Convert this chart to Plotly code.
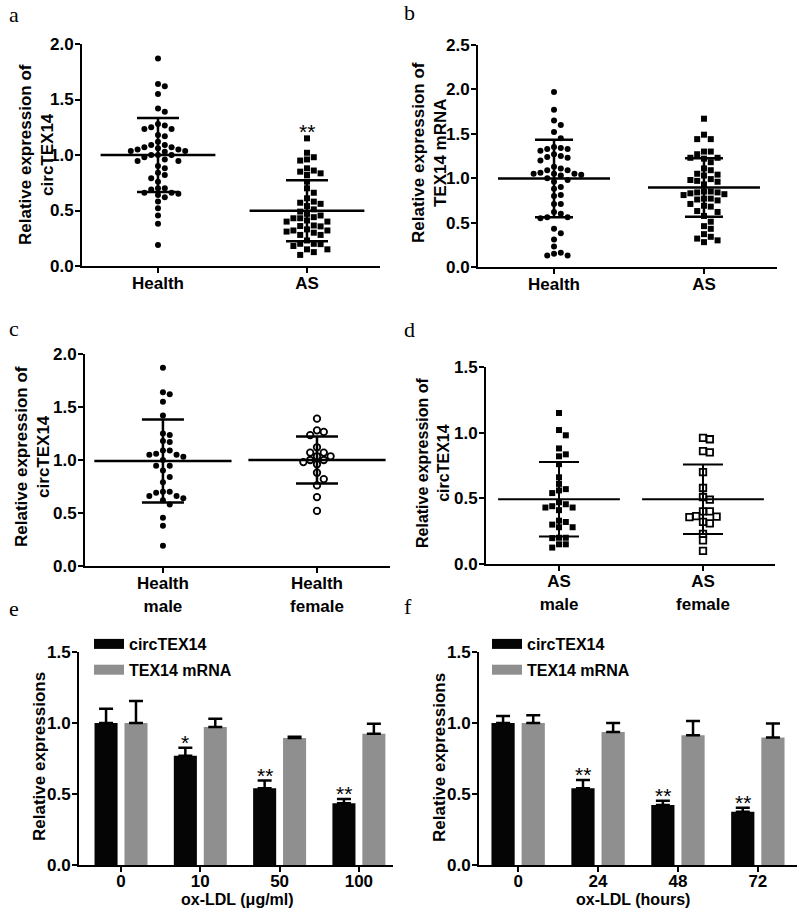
import numpy as np
import plotly.graph_objects as go

W, H = 800, 913
FONT = "Liberation Sans, Arial, sans-serif"
SERIF = "Liberation Serif, Times New Roman, serif"

# ---------------- data ----------------
c_health_male = [1.87, 1.64, 1.62, 1.55, 1.42, 1.25, 1.235, 1.18, 1.17, 1.09, 1.09,
                 1.06, 1.05, 1.05, 1.03, 1.00, 0.945, 0.945, 0.90, 0.84, 0.79, 0.70,
                 0.70, 0.69, 0.66, 0.64, 0.62, 0.66, 0.58, 0.455, 0.38, 0.19]
c_health_female = [1.39, 1.28, 1.265, 1.235, 1.12, 1.07, 1.07, 1.035, 1.035, 0.96,
                   1.00, 1.00, 0.98, 0.88, 0.82, 0.76, 0.65, 0.52]
d_as_male = [1.15, 1.02, 0.98, 0.88, 0.82, 0.835, 0.76, 0.66, 0.61, 0.56, 0.57, 0.54,
             0.47, 0.455, 0.44, 0.43, 0.43, 0.41, 0.32, 0.30, 0.33, 0.28, 0.28, 0.20,
             0.197, 0.20, 0.15, 0.15, 0.125]
d_as_female = [0.96, 0.95, 0.86, 0.85, 0.70, 0.58, 0.51, 0.49, 0.40, 0.40, 0.357,
               0.36, 0.365, 0.32, 0.31, 0.23, 0.18, 0.10]
b_health = [1.97, 1.77, 1.65, 1.60, 1.52, 1.45, 1.35, 1.33, 1.31, 1.33, 1.34, 1.27,
            1.25, 1.23, 1.24, 1.20, 1.13, 1.11, 1.09, 1.09, 1.05, 1.05, 1.04, 1.05,
            1.03, 1.06, 1.00, 0.98, 0.96, 0.90, 0.88, 0.81, 0.80, 0.71, 0.71, 0.62,
            0.60, 0.56, 0.55, 0.56, 0.43, 0.38, 0.31, 0.23, 0.16, 0.13, 0.13, 0.15]
b_as = [1.67, 1.49, 1.44, 1.44, 1.30, 1.27, 1.30, 1.23, 1.23, 1.22, 1.18, 1.11, 1.09,
        1.05, 1.04, 1.03, 0.99, 0.97, 0.96, 0.98, 0.93, 0.84, 0.81, 0.85, 0.84, 0.85,
        0.82, 0.83, 0.77, 0.76, 0.77, 0.75, 0.71, 0.69, 0.68, 0.63, 0.62, 0.575, 0.51,
        0.46, 0.43, 0.37, 0.34, 0.32, 0.28, 0.30]

a_mean = [1.00, 0.497]
a_sd = [0.333, 0.275]
b_mean = [0.996, 0.895]
b_sd = [0.436, 0.330]
c_mean = [0.990, 1.000]
c_sd = [0.392, 0.222]
d_mean = [0.493, 0.493]
d_sd = [0.284, 0.265]

ab_labels = ["Health", "AS"]
c_labels = ["Health<br>male", "Health<br>female"]
d_labels = ["AS<br>male", "AS<br>female"]

e_cats = ["0", "10", "50", "100"]
e_circ = [1.00, 0.77, 0.54, 0.434]
e_circ_sd = [0.10, 0.055, 0.055, 0.03]
e_mrna = [1.00, 0.972, 0.895, 0.925]
e_mrna_sd = [0.155, 0.058, 0.008, 0.07]
e_sig = ["", "*", "**", "**"]

f_cats = ["0", "24", "48", "72"]
f_circ = [1.00, 0.54, 0.422, 0.375]
f_circ_sd = [0.05, 0.058, 0.03, 0.028]
f_mrna = [1.00, 0.937, 0.914, 0.898]
f_mrna_sd = [0.055, 0.063, 0.10, 0.098]
f_sig = ["", "**", "**", "**"]

series_names = ["circTEX14", "TEX14 mRNA"]

# ---------------- layout geometry ----------------
def fx(p):
    return p / W

def fy(p):
    return 1 - p / H

P = {
    "a": dict(n="", px=(82, 380), py=(44, 266), yr=(0, 2.0), xr=(-0.51, 1.49)),
    "b": dict(n="2", px=(478, 777), py=(45, 267), yr=(0, 2.5), xr=(-0.507, 1.487)),
    "c": dict(n="3", px=(85, 390), py=(354, 566), yr=(0, 2.0), xr=(-0.506, 1.474)),
    "d": dict(n="4", px=(486, 775), py=(367, 564), yr=(0, 1.5), xr=(-0.507, 1.5)),
    "e": dict(n="5", px=(79, 393), py=(652, 865), yr=(0, 1.5), xr=(-0.53, 3.43)),
    "f": dict(n="6", px=(479, 797), py=(652, 865), yr=(0, 1.5), xr=(-0.49, 3.49)),
}

tickfont = dict(family=FONT, size=17, color="black", weight="bold")
axis_common = dict(showline=True, linecolor="black", linewidth=2, ticks="outside",
                   ticklen=5, tickwidth=2, tickcolor="black", showgrid=False,
                   zeroline=False, tickfont=tickfont, fixedrange=True, automargin=False)

fig = go.Figure()
layout = {}
for key, p in P.items():
    n = p["n"]
    ncat = 4 if key in ("e", "f") else 2
    labels = {"a": ab_labels, "b": ab_labels, "c": c_labels, "d": d_labels,
              "e": e_cats, "f": f_cats}[key]
    layout["xaxis" + n] = dict(axis_common, domain=[fx(p["px"][0]), fx(p["px"][1])],
                               range=list(p["xr"]), anchor="y" + n,
                               tickvals=list(range(ncat)), ticktext=labels,
                               ticklabelstandoff=-5 if key in ("e", "f") else -4)
    layout["yaxis" + n] = dict(axis_common, domain=[fy(p["py"][1]), fy(p["py"][0])],
                               range=list(p["yr"]), anchor="x" + n, dtick=0.5,
                               tick0=0, tickformat=".1f", ticklabelstandoff=-2)


def swarm(vals, key, D=6.4, step=6.8):
    p = P[key]
    xpx = (p["px"][1] - p["px"][0]) / (p["xr"][1] - p["xr"][0])
    ypx = (p["py"][1] - p["py"][0]) / (p["yr"][1] - p["yr"][0])
    vals = np.asarray(vals, float)
    order = np.argsort(-vals, kind="stable")
    cands = [0.0]
    for j in range(1, 20):
        cands += [step * j, -step * j]
    placed = []
    offs = np.zeros(len(vals))
    for i in order:
        yp = vals[i] * ypx
        for c in cands:
            if all((c - qx) ** 2 + (yp - qy) ** 2 >= D * D for qx, qy in placed):
                break
        placed.append((c, yp))
        offs[i] = c / xpx
    return offs


def scatter_panel(key, groups, symbols, means, sds, meanlen, capw, lw):
    n = P[key]["n"]
    for i, (vals, sym) in enumerate(zip(groups, symbols)):
        offs = swarm(vals, key)
        openm = sym.endswith("open")
        fig.add_trace(go.Scatter(
            x=i + offs, y=vals, mode="markers", xaxis="x" + n, yaxis="y" + n,
            showlegend=False, hoverinfo="skip",
            marker=dict(symbol=sym, size=6 if not openm else 6.5, color="black",
                        line=dict(color="black", width=1.8 if openm else 0))))
    fig.add_trace(go.Scatter(
        x=list(range(len(means))), y=means, mode="markers", xaxis="x" + n,
        yaxis="y" + n, showlegend=False, hoverinfo="skip",
        marker=dict(symbol="line-ew", size=meanlen, color="black",
                    line=dict(color="black", width=lw)),
        error_y=dict(type="data", array=sds, width=capw, thickness=lw, color="black")))


a_health = c_health_male + c_health_female
a_as = d_as_male + d_as_female

scatter_panel("a", [a_health, a_as], ["circle", "square"], a_mean, a_sd, 82, 21, 2.5)
scatter_panel("b", [b_health, b_as], ["circle", "square"], b_mean, b_sd, 80, 19, 2.5)
scatter_panel("c", [c_health_male, c_health_female], ["circle", "circle-open"],
              c_mean, c_sd, 98, 21, 2.5)
scatter_panel("d", [d_as_male, d_as_female], ["square", "square-open"],
              d_mean, d_sd, 87, 20, 2.0)

ann = []
starfont = dict(family=FONT, size=21, color="black")
# significance mark on panel a
ann.append(dict(text="**", x=1, y=max(a_as), xref="x", yref="y", showarrow=False,
                xanchor="center", yanchor="bottom", yshift=-7, font=starfont))

BARGAP, GROUPGAP = 0.245, 0.23
slot = (1 - BARGAP) / 2
colors = ["#050505", "#8f8f8f"]


def bar_panel(key, circ, circ_sd, mrna, mrna_sd, sig, legend):
    n = P[key]["n"]
    xs = list(range(len(circ)))
    for name, vals, sd, col in zip(series_names, [circ, mrna], [circ_sd, mrna_sd], colors):
        fig.add_trace(go.Bar(
            x=xs, y=vals, xaxis="x" + n, yaxis="y" + n, marker=dict(color=col, line=dict(width=0)),
            showlegend=False, hoverinfo="skip",
            error_y=dict(type="data", array=sd, arrayminus=[0] * len(sd), symmetric=False,
                         width=7, thickness=2.5, color="black")))
        # legend proxy (wide swatch)
        fig.add_trace(go.Scatter(
            x=[None], y=[None], mode="lines", name=name, xaxis="x" + n, yaxis="y" + n,
            line=dict(color=col, width=12), legend=legend, legendgroup=name + key))
    for x, v, s, t in zip(xs, circ, circ_sd, sig):
        if t:
            ann.append(dict(text=t, x=x - slot / 2, y=v + s, xref="x" + n, yref="y" + n,
                            showarrow=False, xanchor="center", yanchor="bottom",
                            yshift=-8, font=starfont))


bar_panel("e", e_circ, e_circ_sd, e_mrna, e_mrna_sd, e_sig, "legend")
bar_panel("f", f_circ, f_circ_sd, f_mrna, f_mrna_sd, f_sig, "legend2")

legfont = dict(family=FONT, size=16, color="black", weight="bold")
layout["legend"] = dict(x=fx(89), y=fy(627), xanchor="left", yanchor="top",
                        font=legfont, bgcolor="rgba(0,0,0,0)", tracegroupgap=2,
                        itemclick=False)
layout["legend2"] = dict(x=fx(487), y=fy(627), xanchor="left", yanchor="top",
                         font=legfont, bgcolor="rgba(0,0,0,0)", tracegroupgap=2,
                         itemclick=False)

# ---------------- annotations ----------------
titlefont = dict(family=FONT, size=17, color="black", weight="bold")
for txt, x, y, size in [
    ("Relative expression of<br>circTEX14", 36, 155, 17),
    ("Relative expression of<br>TEX14 mRNA", 429, 153, 17),
    ("Relative expression of<br>circTEX14", 32, 457, 17),
    ("Relative expression of<br>circTEX14", 433, 463, 16),
    ("Relative expressions", 39, 757, 17),
    ("Relative expressions", 439, 757, 17),
]:
    ann.append(dict(text=txt, x=fx(x), y=fy(y), xref="paper", yref="paper",
                    textangle=-90, showarrow=False, xanchor="center", yanchor="middle",
                    font=dict(titlefont, size=size)))
for txt, x, y in [("ox-LDL (μg/ml)", 237, 899), ("ox-LDL (hours)", 633, 899)]:
    ann.append(dict(text=txt, x=fx(x), y=fy(y), xref="paper", yref="paper",
                    showarrow=False, xanchor="center", yanchor="middle",
                    font=dict(family=FONT, size=16, color="black", weight="bold")))
for txt, x, y in [("a", 14, 15), ("b", 409, 13), ("c", 14, 328), ("d", 409, 329),
                  ("e", 14, 608), ("f", 408, 606)]:
    ann.append(dict(text=txt, x=fx(x), y=fy(y), xref="paper", yref="paper",
                    showarrow=False, xanchor="center", yanchor="middle",
                    font=dict(family=SERIF, size=22, color="black")))

fig.update_layout(
    width=W, height=H, margin=dict(l=0, r=0, t=0, b=0, pad=0, autoexpand=False),
    paper_bgcolor="white", plot_bgcolor="white",
    barmode="group", bargap=BARGAP, bargroupgap=GROUPGAP,
    annotations=ann, **layout)

fig.write_html("out.html", config={"displayModeBar": False, "staticPlot": True},
               post_script="document.body.style.margin='0px';"
                           "document.body.style.overflow='hidden';")
